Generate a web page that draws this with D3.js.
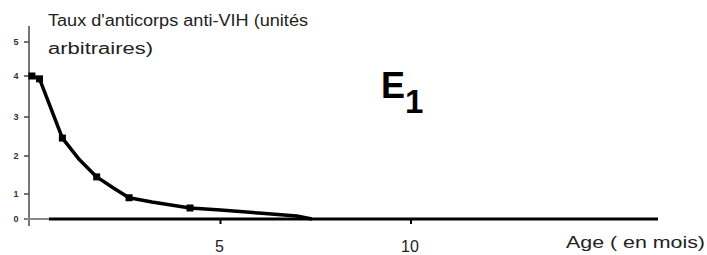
<!DOCTYPE html>
<html>
<head>
<meta charset="utf-8">
<script src="https://cdn.jsdelivr.net/npm/d3@7"></script>
<style>
  body { margin: 0; background: #fff; }
  text { font-family: "Liberation Sans", Arial, sans-serif; }
</style>
</head>
<body>
<svg id="chart" width="707" height="255"></svg>
<script>
// curve (months, arbitrary units)
const ageMonths = [0.05, 0.25, 0.85, 1.3, 1.75, 2.2, 2.6, 3.2, 4.2, 5.0, 6.0, 7.0, 7.4];
const antibodyLevel = [4.0, 3.93, 2.46, 1.9, 1.45, 1.15, 0.85, 0.68, 0.44, 0.36, 0.24, 0.12, 0.0];
// points that carry a marker
const markAge = [0.05, 0.25, 0.85, 1.75, 2.6, 4.2];
const markLevel = [4.0, 3.93, 2.46, 1.45, 0.85, 0.44];

const yTicks = [0, 1, 2, 3, 4, 5];
const xTicks = [5, 10];

const svg = d3.select('#chart');

const x = d3.scaleLinear().domain([0, 10]).range([30, 411]);
// the hand drawn axis is not evenly spaced, so use a piecewise scale
const y = d3.scaleLinear().domain(yTicks).range([219, 194, 156, 117, 76, 42]);

// y axis
svg.append('line')
    .attr('x1', 29).attr('x2', 29).attr('y1', 26).attr('y2', 226)
    .attr('stroke', '#777').attr('stroke-width', 2);

svg.selectAll('.ytick')
    .data(yTicks)
    .enter()
    .append('line')
    .attr('x1', 24).attr('x2', 29)
    .attr('y1', d => y(d)).attr('y2', d => y(d))
    .attr('stroke', '#444').attr('stroke-width', 1.5);

svg.selectAll('.ylab')
    .data(yTicks)
    .enter()
    .append('text')
    .attr('x', 16).attr('y', d => y(d) + 3)
    .attr('text-anchor', 'middle')
    .attr('font-size', 9).attr('font-weight', 'bold').attr('fill', '#333')
    .text(d => d);

// x axis (grey stub near the origin, then heavy black)
svg.append('line')
    .attr('x1', 25).attr('x2', 49).attr('y1', y(0)).attr('y2', y(0))
    .attr('stroke', '#888').attr('stroke-width', 2);
svg.append('line')
    .attr('x1', 49).attr('x2', 658).attr('y1', y(0)).attr('y2', y(0))
    .attr('stroke', '#000').attr('stroke-width', 3);

svg.selectAll('.xtick')
    .data(xTicks)
    .enter()
    .append('line')
    .attr('x1', d => x(d)).attr('x2', d => x(d))
    .attr('y1', y(0)).attr('y2', y(0) + 5)
    .attr('stroke', '#000').attr('stroke-width', 2);

svg.selectAll('.xlab')
    .data(xTicks)
    .enter()
    .append('text')
    .attr('x', d => x(d) - 1).attr('y', 252)
    .attr('text-anchor', 'middle')
    .attr('font-size', 16).attr('fill', '#222')
    .text(d => d);

// the curve
const line = d3.line()
    .x((d, i) => x(ageMonths[i]))
    .y(d => y(d));

svg.append('path')
    .datum(antibodyLevel)
    .attr('d', line)
    .attr('fill', 'none')
    .attr('stroke', '#000')
    .attr('stroke-width', 3.5)
    .attr('stroke-linejoin', 'round');

svg.selectAll('.mark')
    .data(markLevel)
    .enter()
    .append('rect')
    .attr('x', (d, i) => x(markAge[i]) - 3.5)
    .attr('y', d => y(d) - 3.5)
    .attr('width', 7).attr('height', 7)
    .attr('fill', '#000');

// texts (the original font is wider, stretch glyphs to fit)
svg.append('text')
    .attr('x', 48).attr('y', 26)
    .attr('font-size', 16).attr('fill', '#222')
    .attr('textLength', 260).attr('lengthAdjust', 'spacingAndGlyphs')
    .text("Taux d'anticorps anti-VIH (unités");
svg.append('text')
    .attr('x', 48).attr('y', 54)
    .attr('font-size', 16).attr('fill', '#222')
    .attr('textLength', 105).attr('lengthAdjust', 'spacingAndGlyphs')
    .text('arbitraires)');

svg.append('text')
    .attr('x', 566).attr('y', 248)
    .attr('font-size', 16).attr('fill', '#222')
    .attr('textLength', 139).attr('lengthAdjust', 'spacingAndGlyphs')
    .text('Age ( en mois)');

const e1 = svg.append('text')
    .attr('x', 381).attr('y', 98)
    .attr('font-size', 36).attr('font-weight', 'bold').attr('fill', '#000');
e1.append('tspan').text('E');
e1.append('tspan').attr('dy', 15).attr('font-size', 33).text('1');
</script>
</body>
</html>
